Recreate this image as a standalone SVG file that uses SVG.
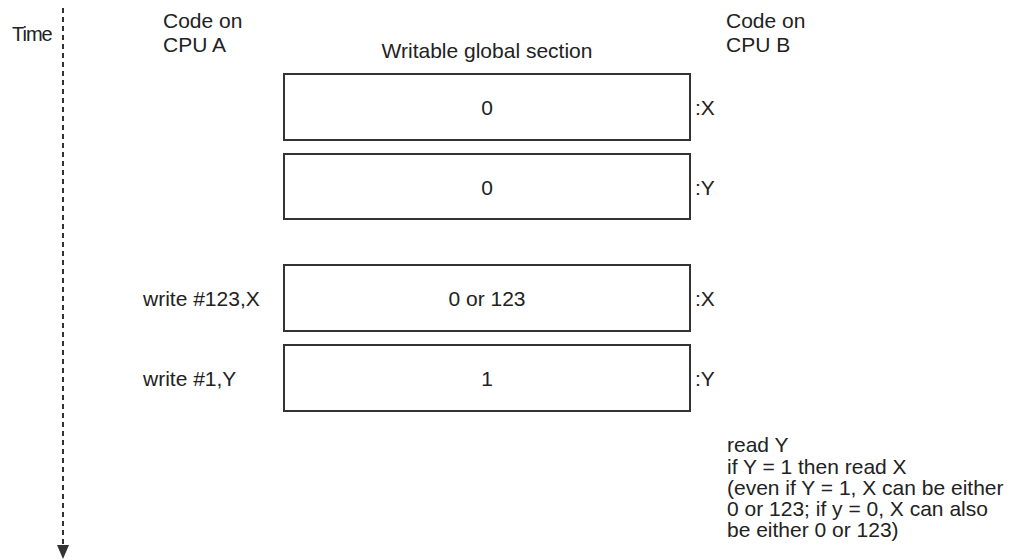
<svg xmlns="http://www.w3.org/2000/svg" width="1023" height="560" viewBox="0 0 1023 560">
<style>
text{font-family:"Liberation Sans",Arial,sans-serif;font-size:21px;fill:#222}
.c{text-anchor:middle}
.box{fill:#fff;stroke:#333;stroke-width:2}
.time{stroke:#333;stroke-width:2;stroke-dasharray:5 4;fill:none}
</style>
<rect width="1023" height="560" fill="#fff"/>
<g id="connectors">
<line class="time" x1="63" y1="8" x2="63" y2="546"/>
<path d="M57,545 L69,545 L63,559 Z" fill="#333"/>
</g>
<g id="labels">
<text x="12" y="41" style="font-size:20px;letter-spacing:-1px">Time</text>
<text x="163" y="28">Code on</text>
<text x="163" y="52">CPU A</text>
<text x="726" y="28">Code on</text>
<text x="726" y="52">CPU B</text>
<text class="c" x="487" y="58">Writable global section</text>
</g>
<g id="node-x0">
<rect class="box" x="284" y="74" width="406" height="66"/>
<text class="c" x="487" y="115">0</text>
<text x="695" y="115">:X</text>
</g>
<g id="node-y0">
<rect class="box" x="284" y="154" width="406" height="65"/>
<text class="c" x="487" y="195">0</text>
<text x="695" y="195">:Y</text>
</g>
<g id="node-x1">
<text x="143" y="306">write #123,X</text>
<rect class="box" x="284" y="265" width="406" height="66"/>
<text class="c" x="487" y="306">0 or 123</text>
<text x="695" y="306">:X</text>
</g>
<g id="node-y1">
<text x="143" y="386">write #1,Y</text>
<rect class="box" x="284" y="345" width="406" height="66"/>
<text class="c" x="487" y="386">1</text>
<text x="695" y="386">:Y</text>
</g>
<g id="cpu-b-code">
<text x="727" y="452">read Y</text>
<text x="727" y="474">if Y = 1 then read X</text>
<text x="727" y="495">(even if Y = 1, X can be either</text>
<text x="727" y="516">0 or 123; if y = 0, X can also</text>
<text x="727" y="537">be either 0 or 123)</text>
</g>
</svg>
